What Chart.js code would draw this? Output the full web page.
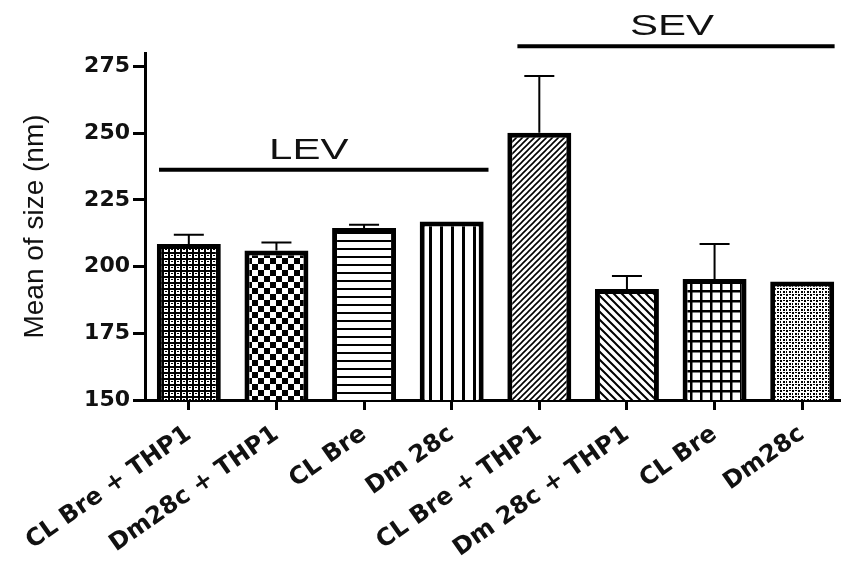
<!DOCTYPE html>
<html>
<head>
<meta charset="utf-8">
<script src="https://cdn.jsdelivr.net/npm/chart.js@4"></script>
<style>
  html, body { margin: 0; padding: 0; background: #fff; overflow: hidden; }
  #wrap { width: 850px; height: 561px; position: relative; }
</style>
</head>
<body>
<div id="wrap"><canvas id="chart"></canvas></div>
<script>
// Sample groups on the x axis
const categories = ['CL Bre + THP1', 'Dm28c + THP1', 'CL Bre', 'Dm 28c',
                    'CL Bre + THP1', 'Dm 28c + THP1', 'CL Bre', 'Dm28c'];
// Mean particle size (nm) and upper error (SEM) for each sample
const means = [208.4, 206.0, 214.4, 216.9, 250.1, 191.6, 195.3, 194.4];
const sems  = [3.5, 3.0, 1.3, 0, 21.3, 4.9, 13.1, 0];
// Y axis tick values
const yTicks = [150, 175, 200, 225, 250, 275];
// Bracket groups
const groupNames = ['LEV', 'SEV'];

// Monochrome fill patterns, one per bar
function tile(w, h, draw) {
  const c = document.createElement('canvas');
  c.width = w; c.height = h;
  const g = c.getContext('2d');
  g.fillStyle = '#fff'; g.fillRect(0, 0, w, h);
  g.fillStyle = '#000'; g.strokeStyle = '#000';
  draw(g);
  return c;
}
function makePattern(kind) {
  const ctx = document.createElement('canvas').getContext('2d');
  let t;
  switch (kind) {
    case 'weave':
      t = tile(6, 6, g => { g.fillRect(0, 0, 6, 2); g.fillRect(0, 0, 2, 6); g.fillRect(3, 3, 2, 1); });
      break;
    case 'checker':
      t = tile(12, 12, g => { g.fillRect(0, 0, 6, 6); g.fillRect(6, 6, 6, 6); });
      break;
    case 'hlines':
      t = tile(8, 8, g => { g.fillRect(0, 0, 8, 2); });
      break;
    case 'vlines':
      t = tile(11, 11, g => { g.fillRect(0, 0, 3, 11); });
      break;
    case 'diagUp':
      t = tile(6, 6, g => {
        g.lineWidth = 1.6; g.beginPath();
        g.moveTo(-1, 1); g.lineTo(1, -1);
        g.moveTo(0, 6); g.lineTo(6, 0);
        g.moveTo(5, 7); g.lineTo(7, 5);
        g.stroke();
      });
      break;
    case 'diagDown':
      t = tile(8, 8, g => {
        g.lineWidth = 2; g.beginPath();
        g.moveTo(-1, 7); g.lineTo(1, 9);
        g.moveTo(0, 0); g.lineTo(8, 8);
        g.moveTo(7, -1); g.lineTo(9, 1);
        g.stroke();
      });
      break;
    case 'grid':
      t = tile(10, 10, g => { g.fillRect(0, 0, 10, 2.5); g.fillRect(0, 0, 2.5, 10); });
      break;
    case 'dots':
      t = tile(6, 6, g => { g.fillRect(0, 0, 2, 2); g.fillRect(3, 3, 2, 2); g.fillRect(3, 0, 2, 1); g.fillRect(0, 3, 1, 2); });
      break;
  }
  return ctx.createPattern(t, 'repeat');
}
const fills = ['weave', 'checker', 'hlines', 'vlines', 'diagUp', 'diagDown', 'grid', 'dots'].map(makePattern);

// Upward-only error bars with caps
const errorBars = {
  id: 'errorBars',
  afterDatasetsDraw(chart) {
    const { ctx, scales: { y } } = chart;
    const meta = chart.getDatasetMeta(0);
    ctx.save();
    ctx.strokeStyle = '#000';
    ctx.lineWidth = 2;
    meta.data.forEach((bar, i) => {
      const e = sems[i];
      if (!e) return;
      const yBase = y.getPixelForValue(means[i]);
      const yTop = y.getPixelForValue(means[i] + e);
      ctx.beginPath();
      ctx.moveTo(bar.x, yBase); ctx.lineTo(bar.x, yTop);
      ctx.moveTo(bar.x - 15, yTop); ctx.lineTo(bar.x + 15, yTop);
      ctx.stroke();
    });
    ctx.restore();
  }
};

// Group brackets: a horizontal rule with a label above it
const groupBrackets = {
  id: 'groupBrackets',
  afterDraw(chart, args, opts) {
    const { ctx, scales: { x, y } } = chart;
    ctx.save();
    opts.spans.forEach((s, i) => {
      const x0 = x.getPixelForValue(s.from);
      const x1 = x.getPixelForValue(s.to);
      const yy = y.getPixelForValue(s.level);
      ctx.strokeStyle = '#000';
      ctx.lineWidth = 4;
      ctx.beginPath(); ctx.moveTo(x0, yy); ctx.lineTo(x1, yy); ctx.stroke();
      ctx.fillStyle = '#111';
      ctx.font = '30px "Liberation Sans", Arial, sans-serif';
      ctx.textAlign = 'center';
      ctx.textBaseline = 'alphabetic';
      ctx.translate((x0 + x1) / 2 + s.shift, yy - 11);
      ctx.scale(1.4, 1);
      ctx.fillText(groupNames[i], 0, 0);
      ctx.setTransform(1, 0, 0, 1, 0, 0);
    });
    ctx.restore();
  }
};

new Chart(document.getElementById('chart'), {
  type: 'bar',
  data: {
    labels: categories,
    datasets: [{
      data: means,
      backgroundColor: fills,
      borderColor: '#000',
      borderWidth: 5,
      borderSkipped: false,
      categoryPercentage: 1,
      barPercentage: 0.73
    }]
  },
  options: {
    responsive: true,
    maintainAspectRatio: false,
    animation: false,
    events: [],
    layout: { padding: { top: 53, right: 4, left: 0, bottom: 0 } },
    plugins: {
      legend: { display: false },
      tooltip: { enabled: false },
      groupBrackets: {
        spans: [
          { from: -0.34, to: 3.42, level: 236.3, shift: -15 },
          { from: 3.75, to: 7.37, level: 282.5, shift: -4 }
        ]
      }
    },
    scales: {
      x: {
        offset: true,
        afterFit: s => { s.height = 161; },
        grid: { display: true, drawOnChartArea: false, offset: false, tickLength: 10, lineWidth: 3, color: '#000' },
        border: { display: true, width: 3, color: '#000' },
        ticks: {
          minRotation: 35, maxRotation: 35, padding: 10,
          color: '#111',
          font: { family: '"DejaVu Sans", sans-serif', size: 24, weight: 'bold' }
        }
      },
      y: {
        min: 150, max: 280,
        afterFit: s => { s.width = 145; },
        afterBuildTicks: s => { s.ticks = yTicks.map(v => ({ value: v })); },
        grid: { display: true, drawOnChartArea: false, tickLength: 12, lineWidth: 3, color: '#000' },
        border: { display: true, width: 3, color: '#000' },
        ticks: {
          padding: 3, color: '#111',
          font: { family: '"DejaVu Sans", sans-serif', size: 22, weight: 'bold' }
        },
        title: {
          display: true,
          text: 'Mean of size (nm)',
          color: '#111',
          padding: { top: 18, bottom: 0 },
          font: { family: '"Liberation Sans", Arial, sans-serif', size: 28 }
        }
      }
    }
  },
  plugins: [errorBars, groupBrackets]
});
</script>
</body>
</html>
